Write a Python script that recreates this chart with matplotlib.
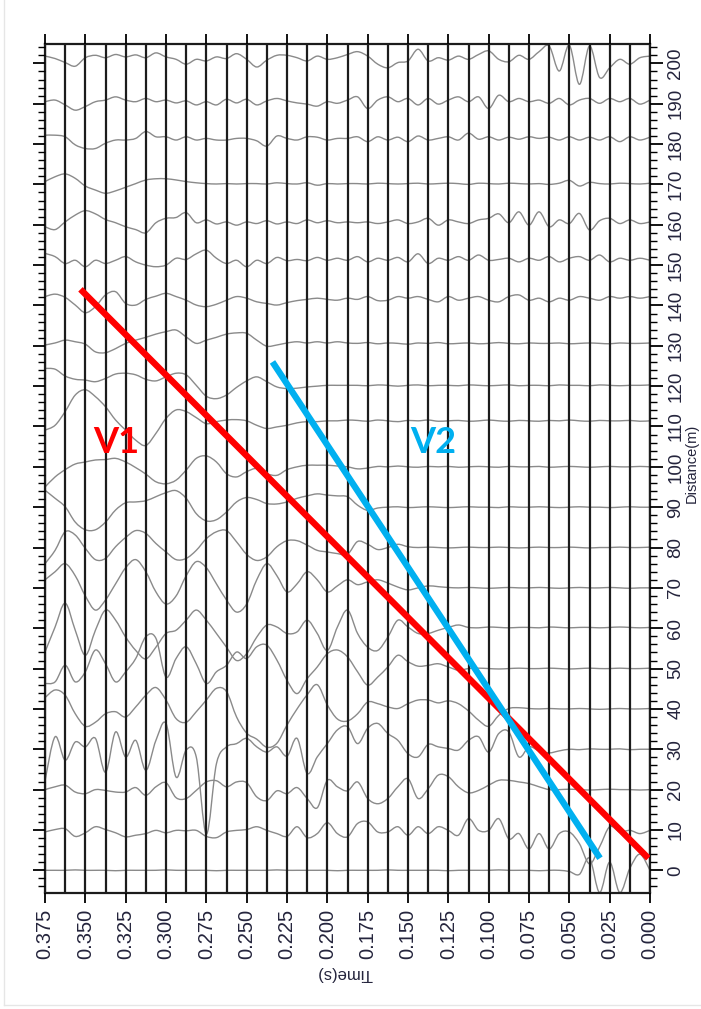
import numpy as np
import matplotlib
matplotlib.use("Agg")
import matplotlib.pyplot as plt
from matplotlib.ticker import MultipleLocator, FormatStrFormatter
from matplotlib.lines import Line2D
from matplotlib.path import Path
from matplotlib.patches import PathPatch

# receiver offsets (m) and trace amplitudes (m),
# each trace sampled from t = 0.375 s down to t = 0 s
distances = [0, 10, 20, 30, 40, 50, 60, 70, 80, 90, 100,
             110, 120, 130, 140, 150, 160, 170, 180, 190, 200]

trace_000 = [0.0, 0.0, 0.0, 0.1, 0.0, 0.0, 0.0, -0.1, 0.0, 0.0, 0.0, 0.0, 0.1, 0.0, 0.0, 0.0,
             0.0, -0.1, 0.0, 0.0, 0.0, 0.0, 0.0, 0.1, 0.0, 0.0, 0.0, 0.0, 0.0, -0.1, 0.0, 0.0,
             0.0, 0.0, 0.1, 0.0, 0.0, 0.0, 0.0, 0.0, -0.1, 0.0, 0.0, 0.0, 0.0, 0.1, 0.0, 0.0,
             0.0, -0.1, 0.0, 0.0, -0.3, -1.0, 3.0, -5.5, 2.0, -5.5, 0.5, 4.0, 0.0]
trace_010 = [-0.5, 0.1, 0.3, -1.6, -0.7, 0.8, 0.1, -0.7, -1.7, -1.3, -0.9, -0.1, -0.7, -0.1, -0.2, -0.1,
             -1.6, -1.9, -0.5, -0.1, 0.1, 0.8, -0.1, -0.9, -1.6, 0.8, -1.9, -0.9, 1.8, -0.9, -1.7,
             1.6, 2.0, -0.5, -0.5, 0.8, -1.3, 0.8, -0.9, 0.8, -0.1, -1.3, 2.8, -0.1, -0.1, 2.8,
             -2.2, -0.9, -4.7, -0.9, -4.7, -0.9, -0.5, -3.4, -8.4, -4.2, 0.8, -0.5, -0.1, -0.9, -0.1]
trace_020 = [0.0, 0.7, 1.1, -0.6, -1.0, 0.0, -0.2, -0.6, -0.6, 0.5, -1.4, 0.7, 1.7, -2.0, -2.2, -0.2,
             1.9, 2.2, 0.7, 1.9, 1.7, -1.8, -2.7, -0.3, -1.0, 0.5, -2.2, -4.5, 2.3, 0.7, -0.3,
             1.9, -2.2, -3.5, -2.2, 0.7, 2.7, -2.2, 0.2, 3.6, 3.2, 0.7, -0.8, -0.2, 1.1, 2.3,
             2.3, 1.9, 1.5, 0.7, 0.0, 0.0, 0.1, 0.0, -0.1, 0.0, 0.1, 0.0, 0.0, -0.1, 0.0]
trace_030 = [-7.8, 3.1, -2.7, 1.8, 0.6, 2.7, -5.7, 4.3, -1.9, 2.2, -5.2, 2.2, 6.4, -6.9, -0.2, -1.9,
             -21.0, -3.6, 0.6, 1.4, 2.7, 0.6, -0.7, 0.6, -1.7, 2.7, -6.0, -1.9, 1.4, 4.8, 5.6,
             1.4, 5.2, 6.4, 3.9, 2.2, -1.1, -1.9, 1.2, 0.6, 0.2, -0.2, 2.2, 3.1, -0.7, 3.9,
             4.3, -1.9, 0.6, -0.4, -0.9, -0.4, 0.0, -0.1, 0.1, 0.0, 0.0, 0.1, -0.1, 0.0, 0.0]
trace_040 = [2.8, 4.7, 3.4, -1.2, -4.3, -3.3, -1.2, -0.7, -2.0, 0.5, 3.4, 5.3, 2.2, -2.4, -3.3, -0.7,
             2.2, 5.1, 4.3, -2.0, -6.0, -7.5, -9.5, -8.5, -4.0, 0.0, 3.5, 6.0, 1.0, -2.5, -3.0,
             -1.2, 1.7, 1.3, 0.5, 0.1, 1.3, 2.2, 2.2, 1.5, 2.0, 1.3, -0.5, -2.8, -4.3, -1.6,
             0.1, 0.3, 0.1, 0.0, 0.1, 0.0, 0.0, 0.1, 0.0, -0.1, 0.0, 0.1, 0.0, 0.0, 0.1]
trace_050 = [-3.7, -3.3, 0.8, -3.3, -0.8, 4.6, 1.2, -3.3, -0.8, 2.5, 7.9, 7.5, -2.1, 2.5, 5.4, 1.2,
             -3.7, -0.8, 0.8, 4.1, 2.5, 5.4, 5.8, 2.1, -2.9, -6.2, -2.5, 0.4, 3.7, 4.6, 2.9,
             -0.8, -4.1, -2.1, 0.4, 3.3, 1.7, 0.6, 0.8, 1.2, 0.4, -0.4, 0.0, 0.1, 0.0, -0.1,
             0.0, 0.1, 0.0, 0.0, 0.1, 0.0, -0.1, 0.0, 0.1, 0.0, 0.0, 0.1, 0.0, 0.0, 0.1]
trace_060 = [-5.9, 0.3, 6.2, -0.5, -6.7, -0.5, 4.5, 2.0, -2.2, -5.5, -7.6, -4.7, -1.3, -0.5, 2.0, 4.5,
             2.0, -1.3, -4.7, -8.0, -6.3, -2.2, 0.8, 0.3, -1.3, -0.9, 2.0, -1.3, -5.5, 0.3, 4.5,
             -1.3, -4.7, -5.5, -2.2, 2.0, 0.3, -1.3, -1.3, -0.5, 0.2, 0.8, 0.2, 0.1, 0.3, 0.2,
             0.1, 0.2, 0.2, 0.1, 0.3, 0.2, 0.1, 0.2, 0.2, 0.1, 0.2, 0.3, 0.2, 0.1, 0.2]
trace_070 = [2.0, 4.0, 6.0, 3.0, -2.0, -5.5, -3.0, 1.0, 5.0, 7.0, 4.0, -1.0, -4.0, -2.0, 3.0, 6.5,
             5.0, 1.0, -3.0, -6.0, -4.0, 2.0, 6.0, 3.0, -1.0, 1.0, 4.0, 2.0, -1.0, 0.5, 2.0,
             0.8, 1.5, 2.0, 1.2, 0.2, -0.5, 0.0, 0.5, 0.3, 0.1, 0.0, 0.1, 0.0, -0.1, 0.0,
             0.1, 0.0, 0.0, 0.1, 0.0, -0.1, 0.0, 0.1, 0.0, 0.0, 0.1, 0.0, -0.1, 0.0, 0.0]
trace_080 = [-4.0, -0.7, 3.9, 3.1, -0.2, -3.0, -2.7, 0.2, 2.5, 4.2, 3.5, 1.0, -1.1, -3.0, -2.7, -0.7,
             2.2, 3.9, 4.2, 1.4, -1.7, -3.2, -2.3, 0.2, 1.7, 1.7, 0.6, -0.7, -1.1, -1.5, -1.7,
             1.5, 0.8, -0.5, 0.0, 0.8, 0.2, 0.0, 0.1, 0.0, -0.1, 0.0, 0.1, 0.0, 0.0, 0.1,
             0.0, -0.1, 0.0, 0.1, 0.0, 0.0, 0.1, 0.0, -0.1, 0.0, 0.0, 0.1, 0.0, 0.0, 0.1]
trace_090 = [4.2, 2.2, 0.1, -3.7, -5.6, -5.6, -3.7, -0.7, 1.1, 1.3, 1.6, 2.6, 3.6, 4.1, 2.2, -1.6,
             -3.4, -3.1, -1.2, 1.3, 2.4, 1.9, 0.9, 0.8, 1.3, 2.2, 2.8, 3.3, 3.0, 2.8, 2.6,
             0.5, -0.8, -0.2, 0.0, 0.1, -0.1, 0.0, 0.1, 0.0, -0.1, 0.0, 0.1, 0.0, 0.0, -0.1,
             0.1, 0.0, 0.0, 0.1, 0.0, -0.1, 0.0, 0.1, 0.0, 0.0, -0.1, 0.0, 0.1, 0.0, 0.0]
trace_100 = [-5.0, -2.5, -0.7, 0.7, 1.2, 1.7, 1.8, 2.1, 1.2, -0.2, -1.8, -3.7, -4.2, -3.3, -0.8, 2.1,
             2.7, 1.2, -1.7, -2.5, -1.2, -0.4, -1.7, -2.1, -0.7, 0.0, 0.4, 0.4, 0.4, 0.2, 0.0,
             -0.5, -0.3, 0.1, 0.0, 0.2, 0.0, -0.1, 0.1, 0.0, 0.1, -0.1, 0.0, 0.1, 0.0, -0.1,
             0.1, 0.0, 0.0, 0.1, -0.1, 0.0, 0.1, 0.0, -0.1, 0.0, 0.1, 0.0, 0.0, 0.1, 0.0]
trace_110 = [-0.9, 0.3, 3.7, 7.8, 9.1, 7.4, 4.9, 1.6, -0.9, -3.4, -4.7, -1.7, 2.0, 4.1, 3.7, 2.2,
             0.7, 1.2, 1.6, 1.7, 1.4, 0.3, -0.5, -0.1, 0.3, 0.9, 1.2, 1.2, 1.4, 1.4, 1.6,
             1.5, 1.3, 1.6, 1.4, 1.2, 1.5, 1.4, 1.6, 1.3, 1.4, 1.5, 1.3, 1.4, 1.6, 1.4,
             1.3, 1.5, 1.4, 1.3, 1.5, 1.4, 1.6, 1.4, 1.3, 1.5, 1.4, 1.4, 1.5, 1.3, 1.4]
trace_120 = [4.4, 4.2, 2.5, 1.7, 1.5, 1.1, 1.9, 3.0, 3.2, 2.8, 1.7, 1.3, 2.3, 3.2, 2.8, 0.2,
             -2.5, -3.1, -2.2, -0.3, 1.3, 2.3, 1.1, -0.2, -0.6, -0.5, -0.2, 0.0, 0.2, 0.2, 0.2,
             0.2, 0.1, 0.3, 0.2, 0.0, 0.2, 0.3, 0.1, 0.2, 0.2, 0.1, 0.3, 0.2, 0.1, 0.2,
             0.3, 0.1, 0.2, 0.2, 0.1, 0.3, 0.2, 0.2, 0.1, 0.3, 0.2, 0.1, 0.2, 0.2, 0.3]
trace_130 = [0.2, 0.7, 1.4, 1.0, 0.4, -1.5, -1.7, -0.7, 0.6, 1.4, 2.1, 2.9, 3.5, 3.9, 2.2, 0.6,
             1.4, 2.1, 2.9, 3.2, 3.1, 1.4, -0.1, 0.2, 0.7, 1.0, 0.7, 1.0, 0.7, 1.0, 0.7,
             0.6, 0.8, 0.5, 0.7, 0.6, 0.4, 0.7, 0.6, 0.8, 0.5, 0.6, 0.7, 0.5, 0.6, 0.8,
             0.6, 0.5, 0.7, 0.6, 0.6, 0.7, 0.5, 0.6, 0.7, 0.6, 0.5, 0.7, 0.6, 0.6, 0.7]
trace_140 = [2.2, 2.8, 2.0, 0.1, -1.8, -0.3, 2.6, 3.4, 0.5, 0.1, 1.5, 2.3, 3.0, 2.2, 1.3, 0.1,
             -0.3, 0.3, 1.3, 2.2, 1.8, 0.9, 0.5, 0.1, 0.7, 1.2, 1.5, 1.8, 1.5, 1.3, 1.8,
             1.5, 2.2, 1.2, 1.3, 2.2, 1.8, 2.2, 1.5, 0.9, 2.2, 1.3, 1.8, 2.2, 1.3, 0.9,
             2.2, 2.6, 1.3, 1.8, 0.9, 1.8, 1.3, 2.2, 1.8, 1.3, 2.2, 1.8, 2.2, 1.8, 2.2]
trace_150 = [2.9, 2.1, 0.4, 1.2, -0.4, 1.2, 0.4, 1.2, 2.1, 0.8, 0.0, -0.4, 0.0, 1.7, 1.4, 2.8,
             3.7, 1.7, 0.4, 1.2, -0.4, 1.2, 0.4, 1.9, 1.1, 1.4, 1.1, 1.9, 1.2, 1.7, 1.2,
             2.1, 0.8, 1.7, 1.2, 1.9, 0.8, 2.8, 0.4, 1.7, 1.2, 2.1, 1.2, 2.5, 1.2, 1.4,
             1.7, 0.8, 1.7, 1.2, 2.1, 0.8, 1.7, 2.1, 1.2, 2.5, 0.8, 1.7, 1.2, 1.7, 1.2]
trace_160 = [-0.5, -1.2, 0.7, 2.4, 3.5, 2.7, 1.3, 0.5, -0.5, -1.2, -2.0, 0.5, 1.6, 1.8, 3.0, 0.5,
             1.2, 0.2, 0.7, -0.1, 0.7, 0.3, 1.0, 0.2, 0.7, 0.3, 1.2, 0.5, 1.0, 0.5, 0.7,
             0.5, 0.7, 0.3, 0.7, 1.2, 0.3, 0.7, 1.6, -0.1, 1.2, 0.7, 0.3, 1.2, 1.6, 2.7,
             0.5, 3.2, -0.1, 3.2, -0.5, 1.2, 0.3, 2.8, -1.3, 1.0, 1.6, 0.3, 1.2, 0.3, 0.7]
trace_170 = [0.7, 1.9, 2.6, 1.5, -0.4, -1.4, -2.2, -1.6, -0.7, 0.2, 1.1, 1.4, 1.4, 1.1, 0.7, 0.4,
             0.2, 0.1, 0.2, 0.1, 0.2, 0.2, 0.1, 0.4, 0.2, 0.1, 0.4, -0.2, 0.2, 0.1, 0.2,
             0.2, 0.1, 0.3, 0.2, 0.1, 0.2, 0.3, 0.1, 0.2, 0.3, 0.2, 0.0, 0.3, 0.2, 0.1,
             0.3, 0.2, 0.1, 0.2, 0.0, 0.3, 1.0, -0.4, 0.5, 0.2, 0.1, 0.3, 0.2, 0.1, 0.3]
trace_180 = [2.2, 2.2, 1.8, -0.2, -1.1, -1.1, 0.2, 1.0, 1.0, 1.4, 3.1, 1.8, 1.8, 1.0, 1.8, 1.0,
             1.4, 1.0, 1.0, 1.4, 1.4, 0.8, -0.5, 2.0, 1.4, 1.0, 1.8, 1.7, 1.0, 1.4, 1.4,
             1.8, 0.6, 1.8, 1.0, 1.7, 0.6, 2.0, 1.0, 1.4, 1.8, 1.0, 2.7, 1.2, 1.8, 1.0,
             1.7, 1.2, 1.8, 1.4, 1.7, 1.0, 1.8, 1.0, 1.7, 1.0, 1.8, 0.6, 1.8, 1.0, 1.7]
trace_190 = [0.5, 0.9, -0.3, -1.6, -0.7, 0.5, 0.9, 1.7, 0.9, 0.5, 1.3, 0.5, 0.9, 0.2, 0.7, -0.3,
             0.5, -0.3, 1.1, 0.2, 1.1, -0.3, 0.7, 1.3, 0.7, 0.2, -0.1, -0.6, 0.5, 0.1, 0.9,
             1.7, -1.2, 0.9, 1.7, 0.5, 1.3, -0.3, 1.3, -0.1, 0.9, 1.7, 0.5, 1.7, -1.2, 2.1,
             0.5, 1.3, 0.5, 0.9, 0.1, 1.3, -0.3, 0.9, 1.3, 0.1, 1.3, 0.5, 1.3, -0.1, 0.9]
trace_200 = [1.8, 1.2, 0.2, -0.7, 1.4, 2.0, 1.4, 2.2, 1.6, 2.1, 1.4, 2.6, 1.6, 1.0, -0.2, 1.0,
             0.6, 1.6, 1.2, 2.4, 1.0, -0.9, 0.8, 2.0, 2.0, 1.4, 0.6, 1.8, 1.0, 1.4, 2.2,
             2.9, 1.8, -0.2, -1.1, 0.2, 0.6, 3.5, 0.6, 1.4, 0.8, 1.8, 1.0, 2.2, 3.1, 1.0,
             0.4, 2.0, 1.0, 2.9, 4.3, -1.9, 4.5, -5.2, 4.3, -3.5, -1.1, 1.0, -0.2, 1.4, 1.8]

traces = [trace_000, trace_010, trace_020, trace_030, trace_040, trace_050, trace_060,
          trace_070, trace_080, trace_090, trace_100, trace_110, trace_120, trace_130,
          trace_140, trace_150, trace_160, trace_170, trace_180, trace_190, trace_200]

# picked first-arrival lines
v1_time = [0.353, 0.001]
v1_dist = [144.0, 3.0]
v2_time = [0.234, 0.031]
v2_dist = [126.0, 3.0]
v1_label = (0.331, 106.0)
v2_label = (0.1345, 106.0)

text_col = "#24243c"
tick_font = ["Liberation Sans", "DejaVu Sans"]


def wiggle_path(x, y):
    # smooth curve passing through every sample (Catmull-Rom drawn as Bezier)
    pts = np.column_stack([x, y])
    verts = [pts[0]]
    codes = [Path.MOVETO]
    n = len(pts)
    for i in range(n - 1):
        p0 = pts[i - 1] if i > 0 else pts[i]
        p1 = pts[i]
        p2 = pts[i + 1]
        p3 = pts[i + 2] if i + 2 < n else pts[i + 1]
        verts += [p1 + (p2 - p0) / 6.0, p2 - (p3 - p1) / 6.0, p2]
        codes += [Path.CURVE4] * 3
    return Path(verts, codes)


fig = plt.figure(figsize=(7.01, 10.09), dpi=100)
ax = fig.add_axes([45 / 701, 1 - 892.5 / 1009, 605 / 701, 848.5 / 1009])

for d, tr in zip(distances, traces):
    t = np.linspace(0.375, 0.0, len(tr))
    ax.add_patch(PathPatch(wiggle_path(t, d + np.array(tr)), fill=False,
                           edgecolor="#8a8a8a", lw=1.0, zorder=2))

ax.plot(v1_time, v1_dist, color="#ff0000", lw=4.6, solid_capstyle="butt", zorder=5)
ax.plot(v2_time, v2_dist, color="#00b0f0", lw=4.6, solid_capstyle="butt", zorder=5)
ax.text(*v1_label, "V1", color="#ff0000", fontsize=26, fontweight="bold",
        family=["Lato", "DejaVu Sans"], ha="center", va="center", zorder=6)
ax.text(*v2_label, "V2", color="#00b0f0", fontsize=26, fontweight="bold",
        family=["Lato", "DejaVu Sans"], ha="center", va="center", zorder=6)

ax.set_xlim(0.375, 0.0)
ax.set_ylim(-5.5, 204.8)

ax.xaxis.set_major_locator(MultipleLocator(0.025))
ax.xaxis.set_minor_locator(MultipleLocator(0.0125))
ax.xaxis.set_major_formatter(FormatStrFormatter("%.3f"))
ax.yaxis.set_major_locator(MultipleLocator(10))
ax.yaxis.set_minor_locator(MultipleLocator(2))
ax.yaxis.set_major_formatter(FormatStrFormatter("%d"))

ax.xaxis.grid(True, which="both", color="#1c1c1c", lw=1.6)
ax.yaxis.grid(False)
ax.set_axisbelow(False)

ax.tick_params(axis="x", which="major", direction="out", length=7, width=1.3,
               top=True, bottom=True, labeltop=False, labelbottom=True,
               labelrotation=90, pad=5, labelsize=14.5, labelcolor=text_col)
ax.tick_params(axis="x", which="minor", length=0)
ax.tick_params(axis="y", which="major", direction="out", length=9, width=1.3,
               left=True, right=True, labelleft=False, labelright=True,
               labelrotation=90, pad=3.5, labelsize=13.5, labelcolor=text_col)
ax.tick_params(axis="y", which="minor", direction="out", length=5, width=1.0,
               left=True, right=True)
for lab in ax.get_xticklabels() + ax.get_yticklabels():
    lab.set_family(tick_font)
for lab in ax.get_yticklabels():
    lab.set_va("center")

for s in ax.spines.values():
    s.set_linewidth(1.6)
    s.set_color("#1c1c1c")

fig.text(345 / 701, 1 - 973 / 1009, "Time(s)", rotation=180, ha="center", va="center",
         fontsize=12, color=text_col, family=tick_font)
fig.text(685 / 701, 1 - 463 / 1009, "Distance(m)", rotation=90, ha="left", va="center",
         fontsize=10.5, color=text_col, family=tick_font)

# faint frame of the original screenshot
fig.add_artist(Line2D([4 / 701, 4 / 701], [0.004, 1.0], transform=fig.transFigure,
                      color="#e6e6e6", lw=1.0))
fig.add_artist(Line2D([4 / 701, 1.0], [0.004, 0.004], transform=fig.transFigure,
                      color="#e6e6e6", lw=1.0))

fig.savefig("out.png", dpi=100)
